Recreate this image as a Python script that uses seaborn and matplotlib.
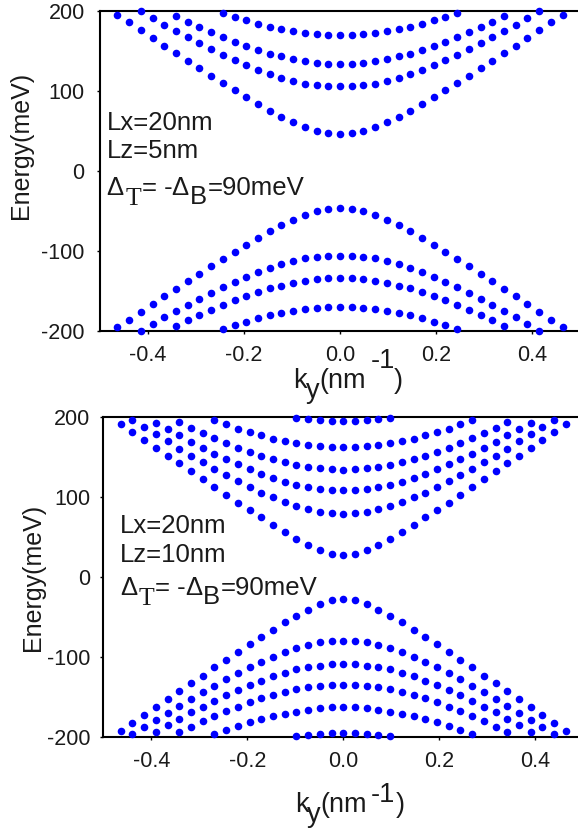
import numpy as np
import pandas as pd
import seaborn as sns
import matplotlib.pyplot as plt

# ===============================
# DATA (energies in meV, read at ky >= 0; bands are even in ky)
# ===============================
ky_half = [0.0, 0.0244, 0.0488, 0.0732, 0.0976, 0.122, 0.1464, 0.1708, 0.1952, 0.2196,
           0.244, 0.2684, 0.2928, 0.3172, 0.3416, 0.366, 0.3904, 0.4148, 0.4392, 0.4636]

# Lz = 5 nm, conduction bands
c5_1 = [45.8, 47.1, 50.0, 54.6, 60.8, 67.9, 75.4, 83.8, 92.5, 100.8,
        110.0, 119.2, 128.3, 137.9, 147.1, 156.7, 166.3, 175.8, 185.8, 195.0]
c5_2 = [105.8, 105.8, 107.1, 109.2, 112.1, 116.3, 120.8, 125.8, 132.1, 138.3,
        145.0, 152.1, 159.6, 167.1, 175.0, 182.9, 191.7, 200.0]
c5_3 = [134.2, 134.2, 135.4, 137.1, 140.0, 143.3, 146.7, 151.3, 156.3, 161.7,
        167.5, 173.8, 180.0, 186.7, 193.8]
c5_4 = [170.0, 170.0, 170.8, 172.5, 175.0, 177.5, 180.4, 183.8, 188.3, 192.5, 197.5]

# Lz = 5 nm, valence bands
v5_1 = [-45.8, -47.1, -50.0, -54.6, -60.8, -67.9, -75.4, -83.8, -92.5, -100.8,
        -110.0, -119.2, -128.3, -137.9, -147.1, -156.7, -166.3, -175.8, -185.8, -195.0]
v5_2 = [-105.8, -105.8, -107.1, -109.2, -112.1, -116.3, -120.8, -125.8, -132.1, -138.3,
        -145.0, -152.1, -159.6, -167.1, -175.0, -182.9, -191.7, -200.0]
v5_3 = [-134.2, -134.2, -135.4, -137.1, -140.0, -143.3, -146.7, -151.3, -156.3, -161.7,
        -167.5, -173.8, -180.0, -186.7, -193.8]
v5_4 = [-170.0, -170.0, -170.8, -172.5, -175.0, -177.5, -180.4, -183.8, -188.3, -192.5, -197.5]

# Lz = 10 nm, conduction bands
c10_1 = [27.9, 29.1, 33.7, 40.8, 48.3, 56.6, 65.8, 74.9, 84.1, 93.3,
         103.3, 112.8, 123.3, 132.9, 142.4, 152.0, 162.0, 172.0, 182.0, 192.0]
c10_2 = [79.5, 79.9, 81.6, 85.4, 89.1, 94.1, 99.9, 105.8, 112.9, 119.9,
         127.9, 135.8, 143.7, 152.0, 160.8, 169.9, 178.7, 187.4, 196.6]
c10_3 = [108.7, 109.1, 110.8, 112.9, 115.4, 119.5, 124.1, 129.5, 134.9, 141.2,
         147.9, 154.5, 162.0, 169.1, 177.4, 185.4, 193.3]
c10_4 = [134.5, 134.9, 136.2, 137.9, 140.4, 143.7, 147.4, 151.6, 156.6, 162.0,
         167.9, 174.1, 180.4, 187.0, 194.1]
c10_5 = [162.9, 162.9, 163.7, 165.8, 168.3, 170.8, 173.3, 177.4, 181.6, 185.8, 191.2, 196.6]
c10_6 = [194.9, 194.9, 196.2, 197.4, 199.1]

# Lz = 10 nm, valence bands
v10_1 = [-27.9, -29.1, -33.7, -40.8, -48.3, -56.6, -65.8, -74.9, -84.1, -93.3,
         -103.3, -112.8, -123.3, -132.9, -142.4, -152.0, -162.0, -172.0, -182.0, -192.0]
v10_2 = [-79.5, -79.9, -81.6, -85.4, -89.1, -94.1, -99.9, -105.8, -112.9, -119.9,
         -127.9, -135.8, -143.7, -152.0, -160.8, -169.9, -178.7, -187.4, -196.6]
v10_3 = [-108.7, -109.1, -110.8, -112.9, -115.4, -119.5, -124.1, -129.5, -134.9, -141.2,
         -147.9, -154.5, -162.0, -169.1, -177.4, -185.4, -193.3]
v10_4 = [-134.5, -134.9, -136.2, -137.9, -140.4, -143.7, -147.4, -151.6, -156.6, -162.0,
         -167.9, -174.1, -180.4, -187.0, -194.1]
v10_5 = [-162.9, -162.9, -163.7, -165.8, -168.3, -170.8, -173.3, -177.4, -181.6, -185.8, -191.2, -196.6]
v10_6 = [-194.9, -194.9, -196.2, -197.4, -199.1]

bands_5 = [c5_1, c5_2, c5_3, c5_4, v5_1, v5_2, v5_3, v5_4]
bands_10 = [c10_1, c10_2, c10_3, c10_4, c10_5, c10_6,
            v10_1, v10_2, v10_3, v10_4, v10_5, v10_6]

y_ticks = [-200, -100, 0, 100, 200]
x_ticks = [-0.4, -0.2, 0.0, 0.2, 0.4]
x_tick_labels = ['-0.4', '-0.2', '0.0', '0.2', '0.4']


def to_frame(bands):
    rows = []
    for i, e in enumerate(bands):
        m = len(e)
        k = ky_half[:m]
        ks = [-v for v in k[:0:-1]] + list(k)
        es = list(e[:0:-1]) + list(e)
        for kk, ee in zip(ks, es):
            rows.append({'ky': kk, 'energy': ee, 'band': i})
    return pd.DataFrame(rows)


df5 = to_frame(bands_5)
df10 = to_frame(bands_10)

# ===============================
# STYLE
# ===============================
sns.set_style('ticks')
plt.rcParams['font.family'] = ['Liberation Sans', 'DejaVu Sans']
plt.rcParams['axes.unicode_minus'] = False

W, H = 578, 832
fig = plt.figure(figsize=(W / 100, H / 100), dpi=100)


def px_axes(left, top, right, bottom):
    return fig.add_axes([left / W, 1 - bottom / H, (right - left) / W, (bottom - top) / H])


def px_text(x, y, s, size=18.5, **kw):
    fig.text(x / W, 1 - y / H, s, fontsize=size, va='baseline', ha='left',
             color='#1a1a1a', **kw)


ax1 = px_axes(100, 11, 580, 331)
ax2 = px_axes(103.3, 417.3, 583.3, 737)

for ax, df in [(ax1, df5), (ax2, df10)]:
    sns.scatterplot(data=df, x='ky', y='energy', color='#0000ff', s=30,
                    linewidth=0, ax=ax, clip_on=False, legend=False, zorder=3)
    ax.set_xlim(-0.5, 0.5)
    ax.set_ylim(-200, 200)
    ax.set_xticks(x_ticks)
    ax.set_xticklabels(x_tick_labels)
    ax.set_yticks(y_ticks)
    ax.set_yticklabels([str(v) for v in y_ticks])
    ax.tick_params(direction='out', length=2.5, width=1.0, labelsize=15.5,
                   colors='black', labelcolor='#1a1a1a')
    ax.tick_params(axis='x', pad=7.5)
    for sp in ax.spines.values():
        sp.set_linewidth(1.5)
        sp.set_color('black')
    ax.set_xlabel('')
    ax.set_ylabel('Energy(meV)', fontsize=18, color='#1a1a1a')

ax1.tick_params(axis='y', pad=8.5)
ax2.tick_params(axis='y', pad=7)
ax1.yaxis.set_label_coords(-0.14, 0.581)
ax2.yaxis.set_label_coords(-0.121, 0.5)

# ===============================
# X LABELS  k_y(nm^-1)
# ===============================
# top panel: superscript sits high, over the tick labels
px_text(293, 388, 'k', 19.5)
px_text(306, 398, 'y', 19.5)
px_text(319, 388, '(nm', 19.5)
px_text(371, 368, '-1', 19.5)
px_text(394, 388, ')', 19.5)

# bottom panel
px_text(295, 812, 'k', 19.5)
px_text(307, 822, 'y', 19.5)
px_text(320, 812, '(nm', 19.5)
px_text(371, 802, '-1', 19.5)
px_text(396, 812, ')', 19.5)

# ===============================
# ANNOTATIONS
# ===============================
px_text(107, 130, 'Lx=20nm')
px_text(107, 158, 'Lz=5nm')
px_text(120, 533, 'Lx=20nm')
px_text(120, 562, 'Lz=10nm')


def delta_line(x0, base):
    px_text(x0, base, '\u0394')
    px_text(x0 + 19, base + 10, 'T', family='Liberation Serif')
    px_text(x0 + 35, base, '= -')
    px_text(x0 + 65, base, '\u0394')
    px_text(x0 + 83, base + 9, 'B')
    px_text(x0 + 101, base, '=90meV')


delta_line(106.7, 195)
delta_line(120, 595)

fig.savefig('out.png', dpi=100)
